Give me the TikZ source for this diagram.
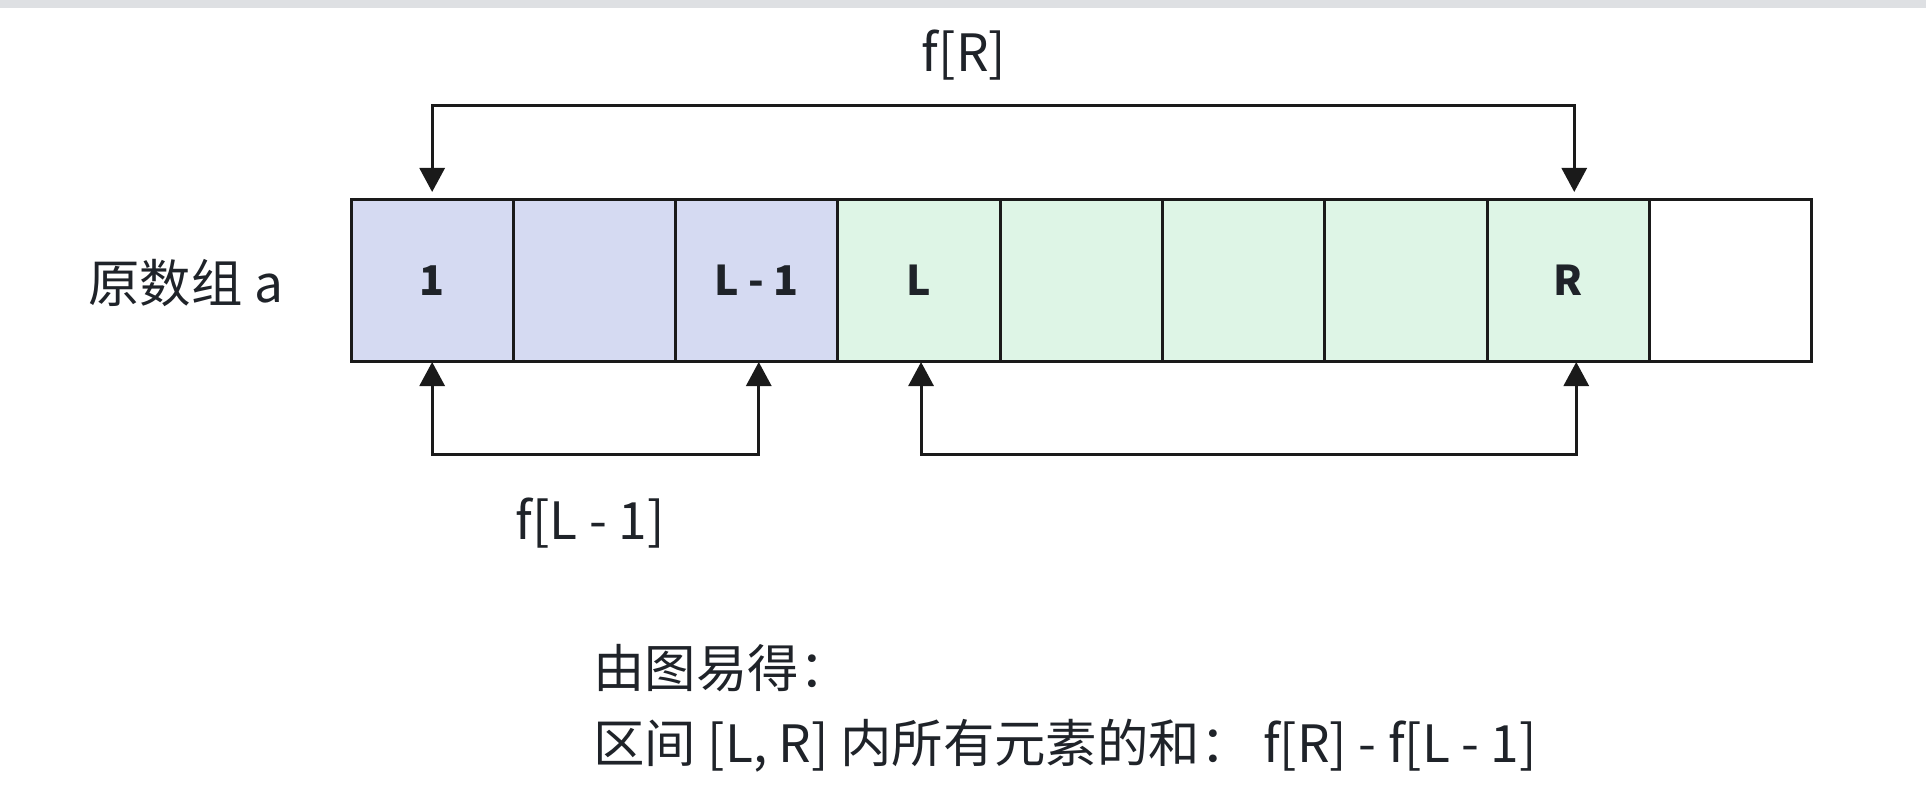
\documentclass[tikz,border=0pt]{standalone}
\usepackage{fontspec}
\setmainfont{Noto Sans CJK SC}
\usetikzlibrary{arrows.meta,calc}
\definecolor{txt}{HTML}{1F2329}
\definecolor{blu}{HTML}{D5DAF2}
\definecolor{grn}{HTML}{DEF5E6}
\definecolor{topbar}{HTML}{DEE0E3}
\definecolor{ln}{HTML}{1A1A1A}
\begin{document}
\begin{tikzpicture}[x=0.5pt,y=-0.5pt,
  cell/.style={draw=ln, line width=1.5pt, minimum width=81.15pt, minimum height=80.5pt,
    inner sep=0pt, outer sep=0pt, anchor=north west,
    font=\fontsize{20.5}{24}\selectfont\bfseries, text=txt},
  conn/.style={draw=ln, line width=1.5pt,
    {Triangle[width=12.5pt,length=12pt]}-{Triangle[width=12.5pt,length=12pt]}},
  lbl/.style={font=\fontsize{25.7}{30}\selectfont, text=txt, inner sep=0pt}]
\useasboundingbox (0,0) rectangle (1926,802);
\fill[topbar] (0,0) rectangle (1926,8);
% cells
\node[cell, fill=blu] (c1) at (351,200) {1};
\node[cell, fill=blu] (c2) at (513.3,200) {};
\node[cell, fill=blu] (c3) at (675.6,200) {L - 1};
\node[cell, fill=grn] (c4) at (837.9,200) {L};
\node[cell, fill=grn] (c5) at (1000.2,200) {};
\node[cell, fill=grn] (c6) at (1162.5,200) {};
\node[cell, fill=grn] (c7) at (1324.8,200) {};
\node[cell, fill=grn] (c8) at (1487.1,200) {R};
\node[cell, fill=white] (c9) at (1649.4,200) {};
% helper coordinates
\coordinate (topy) at (0,106);
\coordinate (boty) at (0,454);
\coordinate (t1) at ($(c1.north)+(0,-8)$);
\coordinate (t8) at ($(c8.north)+(6,-8)$);
\coordinate (b1) at ($(c1.south)+(0,1)$);
\coordinate (b3) at ($(c3.south)+(2,1)$);
\coordinate (b4) at ($(c4.south)+(2,1)$);
\coordinate (b8) at ($(c8.south)+(8,1)$);
% connectors
\draw[conn] (t1) -- (t1 |- topy) -| (t8);
\draw[conn] (b1) -- (b1 |- boty) -| (b3);
\draw[conn] (b4) -- (b4 |- boty) -| (b8);
% labels
\node[lbl] (fR) at (964,55) {f[R]};
\node[lbl] (fL) at (590,523) {f[L - 1]};
\node[lbl, anchor=west] (arr) at (88,283) {原数组 a};
\node[lbl, anchor=west] (n1) at (593,668) {由图易得：};
\node[lbl, anchor=west] (n2) at (593,746) {区间 [L, R] 内所有元素的和： f[R] - f[L - 1]};
\end{tikzpicture}
\end{document}
